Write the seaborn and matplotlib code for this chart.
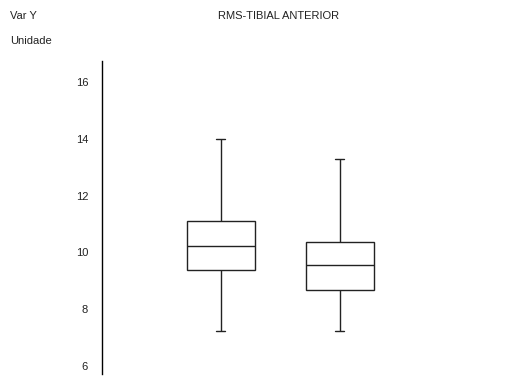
import pandas as pd
import matplotlib.pyplot as plt
import seaborn as sns

# Box summaries: min, Q1, median, Q3, max
groups = ["A", "B"]
values_a = [7.22, 9.37, 10.23, 11.10, 14.00]
values_b = [7.22, 8.69, 9.56, 10.38, 13.28]

df = pd.DataFrame({
    "group": ["A"] * len(values_a) + ["B"] * len(values_b),
    "value": values_a + values_b,
})

sns.set_style("white")
plt.rcParams["font.family"] = ["Liberation Sans", "DejaVu Sans"]

fig = plt.figure(figsize=(5.26, 3.78), dpi=100)
ax = fig.add_axes([102 / 526, 1 - 374 / 378, 416 / 526, (374 - 61) / 378])

sns.boxplot(
    data=df, x="group", y="value", order=groups, ax=ax,
    whis=(0, 100), width=0.57, color="white", linecolor="#222222",
    linewidth=1.0, fliersize=0, capwidths=0.076,
)

ax.set_xlim(-1.0, 2.5)
ax.set_ylim(5.72, 16.74)
ax.set_yticks([6, 8, 10, 12, 14, 16])
ax.set_xticks([])
ax.set_xlabel("")
ax.set_ylabel("")
ax.tick_params(axis="y", length=0, pad=10, labelsize=8, colors="#222222")
for side in ["top", "right", "bottom"]:
    ax.spines[side].set_visible(False)
ax.spines["left"].set_color("black")
ax.spines["left"].set_linewidth(1.0)

fig.text(10 / 526, 1 - 16 / 378, "Var Y", fontsize=8, va="center", ha="left", color="#222222")
fig.text(10 / 526, 1 - 41 / 378, "Unidade", fontsize=8, va="center", ha="left", color="#222222")
fig.text(279 / 526, 1 - 16 / 378, "RMS-TIBIAL ANTERIOR", fontsize=8, va="center", ha="center", color="#222222")

fig.savefig("out.png", dpi=100)
